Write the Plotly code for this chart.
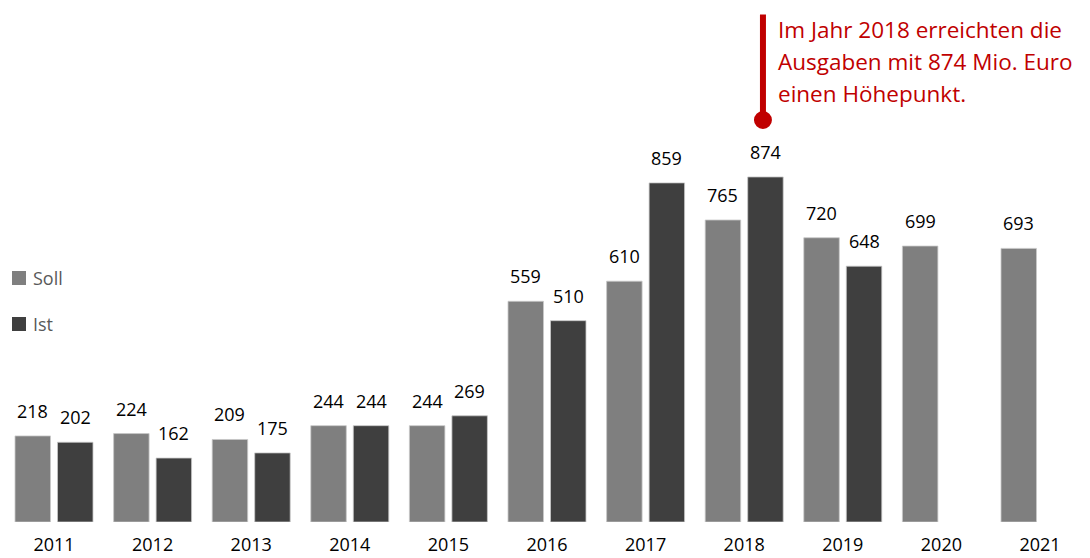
import plotly.graph_objects as go

years = ["2011", "2012", "2013", "2014", "2015", "2016", "2017", "2018", "2019", "2020", "2021"]
soll = [218, 224, 209, 244, 244, 559, 610, 765, 720, 699, 693]
ist = [202, 162, 175, 244, 269, 510, 859, 874, 648, None, None]
series_names = ["Soll", "Ist"]
note_lines = ["Im Jahr 2018 erreichten die", "Ausgaben mit 874 Mio. Euro", "einen Höhepunkt."]
note_year = "2018"

FONT = "Open Sans"
C_SOLL = "#7F7F7F"
C_IST = "#3F3F3F"
RED = "#C00000"

# page has an 8px body margin; the figure is sized to fit the window
PAGE_OFF = 8
W, H = 1090 - PAGE_OFF, 558 - PAGE_OFF
ML, MR, MT, MB = 0, 0, 0, 36
PLOT_W = W - ML - MR
PLOT_H = H - MT - MB
CAT_PX = 98.6
FIRST_CENTER_PAGE = 54
YMAX = 1302
BARGAP = 0.138
GROUPGAP = 0.165
off = (1 - BARGAP) / 4  # bar centre offset from category centre

r0 = (PAGE_OFF + ML - FIRST_CENTER_PAGE) / CAT_PX
r1 = r0 + PLOT_W / CAT_PX


def val_at(page_y):
    fy = page_y - PAGE_OFF
    return (MT + PLOT_H - fy) * YMAX / PLOT_H


def px_paper(page_x):
    return (page_x - PAGE_OFF - ML) / PLOT_W


def py_paper(page_y):
    return 1 - (page_y - PAGE_OFF - MT) / PLOT_H


fig = go.Figure()
fig.add_trace(go.Bar(name=series_names[0], x=years, y=soll,
                     marker=dict(color=C_SOLL, line=dict(width=0.8, color="#C8C8C8")),
                     hoverinfo="skip"))
fig.add_trace(go.Bar(name=series_names[1], x=years, y=ist,
                     marker=dict(color=C_IST, line=dict(width=0.8, color="#C8C8C8")),
                     hoverinfo="skip"))

anns = []
for i, y in enumerate(years):
    for vals, sgn in ((soll, -1), (ist, 1)):
        v = vals[i]
        if v is None:
            continue
        anns.append(dict(x=i + sgn * off, y=v, xref="x", yref="y", text=str(v), showarrow=False,
                         yanchor="bottom", xanchor="center", yshift=11,
                         font=dict(family=FONT, size=18, color="#000000")))

ni = years.index(note_year)
nx = ni + off - 2.5 / CAT_PX

note_base = [36.7, 68.5, 100.3]
for line, base in zip(note_lines, note_base):
    anns.append(dict(x=nx, y=val_at(base - 6.8), xref="x", yref="y", text=line, showarrow=False,
                     xanchor="left", yanchor="middle", align="left", xshift=13,
                     font=dict(family=FONT, size=22.5, color=RED)))

shapes = [
    dict(type="line", xref="x", yref="y", x0=nx, x1=nx, y0=val_at(14.5), y1=val_at(120),
         line=dict(color=RED, width=6)),
    dict(type="circle", xref="x", yref="y", xsizemode="pixel", ysizemode="pixel",
         xanchor=nx, yanchor=val_at(120), x0=-9, x1=9, y0=-9, y1=9,
         fillcolor=RED, line=dict(width=0)),
]

# legend drawn as keys next to the chart
leg_rows = [(series_names[0], C_SOLL, 278), (series_names[1], C_IST, 324)]
for name, col, cy in leg_rows:
    shapes.append(dict(type="rect", xref="paper", yref="paper",
                       x0=px_paper(12), x1=px_paper(26), y0=py_paper(cy - 7), y1=py_paper(cy + 7),
                       fillcolor=col, line=dict(width=0)))
    anns.append(dict(x=px_paper(31), y=py_paper(cy), xref="paper", yref="paper", text=name,
                     showarrow=False, xanchor="left", yanchor="middle",
                     font=dict(family=FONT, size=18, color="#595959")))

fig.update_layout(
    width=W, height=H, margin=dict(l=ML, r=MR, t=MT, b=MB, pad=0),
    paper_bgcolor="white", plot_bgcolor="white",
    barmode="group", bargap=BARGAP, bargroupgap=GROUPGAP,
    font=dict(family=FONT, size=18, color="#000000"),
    xaxis=dict(type="category", range=[r0, r1], showgrid=False, showline=False, zeroline=False,
               ticks="outside", ticklen=6, tickcolor="rgba(0,0,0,0)",
               tickfont=dict(family=FONT, size=18, color="#000000"), automargin=False),
    yaxis=dict(range=[0, YMAX], visible=False, fixedrange=True),
    showlegend=False,
    annotations=anns, shapes=shapes,
)

fig.write_html("out.html")
